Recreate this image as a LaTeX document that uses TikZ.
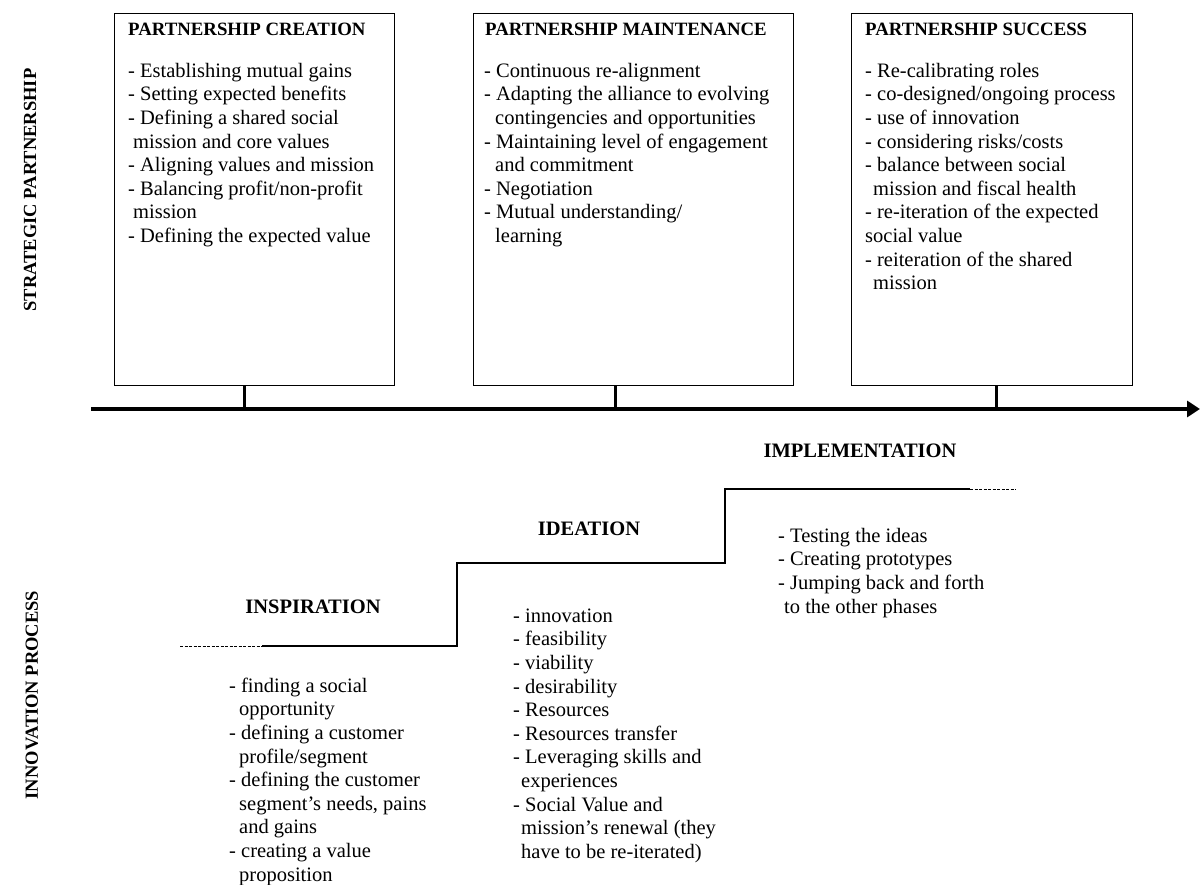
\documentclass[tikz,border=0pt]{standalone}
\usepackage{fontspec}
\setmainfont{Liberation Serif}
\usetikzlibrary{arrows.meta}
\begin{document}
\begin{tikzpicture}[x=1pt,y=-1pt,
  phasebox/.style={draw, line width=1.3pt, anchor=north west, inner sep=0, minimum height=372pt},
  boxtitle/.style={anchor=base west, inner sep=0, font=\fontsize{18.8}{22}\selectfont\bfseries},
  body/.style={anchor=north west, inner sep=0, align=left, font=\fontsize{20.5}{23.6}\selectfont},
  heading/.style={anchor=base, inner sep=0, font=\fontsize{20.5}{23.6}\selectfont\bfseries},
  sidelabel/.style={rotate=90, inner sep=0, font=\fontsize{18.5}{20}\selectfont\bfseries},
  tickline/.style={line width=3pt},
  stepline/.style={line width=1.4pt},
  dashline/.style={line width=1pt, dash pattern=on 3pt off 1.5pt}]
\useasboundingbox (0,0) rectangle (1200,885);

% side labels
\node[sidelabel] (lsp) at (30,190) {STRATEGIC PARTNERSHIP};
\node[sidelabel] (lip) at (32,695) {INNOVATION PROCESS};

% boxes
\node[phasebox, minimum width=280pt] (b1) at (114,13) {};
\node[phasebox, minimum width=320pt] (b2) at (473,13) {};
\node[phasebox, minimum width=281pt] (b3) at (851,13) {};

\node[boxtitle] (t1) at (128,36) {PARTNERSHIP CREATION};
\node[boxtitle] (t2) at (485,36) {PARTNERSHIP MAINTENANCE};
\node[boxtitle] (t3) at (865,36) {PARTNERSHIP SUCCESS};

\node[body] (l1) at (128,60.5) {\strut- Establishing mutual gains\\
- Setting expected benefits\\
- Defining a shared social\\
\hspace*{5pt}mission and core values\\
- Aligning values and mission\\
- Balancing profit/non-profit\\
\hspace*{5pt}mission\\
- Defining the expected value};

\node[body] (l2) at (484,60.5) {\strut- Continuous re-alignment\\
- Adapting the alliance to evolving\\
\hspace*{11pt}contingencies and opportunities\\
- Maintaining level of engagement\\
\hspace*{11pt}and commitment\\
- Negotiation\\
- Mutual understanding/\\
\hspace*{11pt}learning};

\node[body] (l3) at (865,60.5) {\strut- Re-calibrating roles\\
- co-designed/ongoing process\\
- use of innovation\\
- considering risks/costs\\
- balance between social\\
\hspace*{8pt}mission and fiscal health\\
- re-iteration of the expected\\
social value\\
- reiteration of the shared\\
\hspace*{8pt}mission};

% axis
\coordinate (axS) at (91,409);
\coordinate (axE) at (1200,409);
\draw[line width=4pt, -{Triangle[length=13pt,width=16pt]}] (axS) -- (axE);

% ticks
\coordinate (k1) at (244,409);
\coordinate (k2) at (615,409);
\coordinate (k3) at (996,409);
\draw[tickline] (b1.south -| k1) -- (k1);
\draw[tickline] (b2.south -| k2) -- (k2);
\draw[tickline] (b3.south -| k3) -- (k3);

% steps
\coordinate (s0) at (180,646);
\coordinate (s1) at (262,646);
\coordinate (s2) at (457,646);
\coordinate (s3) at (457,563);
\coordinate (s4) at (725,563);
\coordinate (s5) at (725,489);
\coordinate (s6) at (970,489);
\coordinate (s7) at (1016,489);
\draw[dashline] (s0) -- (s1);
\draw[stepline, line join=miter] (s1) -- (s2) -- (s3) -- (s4) -- (s5) -- (s6);
\draw[dashline] (s6) -- (s7);

% headings
\node[heading] (hinsp) at (313,613) {INSPIRATION};
\node[heading] (hidea) at (589,535) {IDEATION};
\node[heading] (himpl) at (860,457) {IMPLEMENTATION};

\node[body] (linsp) at (229,675.5) {\strut- finding a social\\
\hspace*{10pt}opportunity\\
- defining a customer\\
\hspace*{10pt}profile/segment\\
- defining the customer\\
\hspace*{10pt}segment's needs, pains\\
\hspace*{10pt}and gains\\
- creating a value\\
\hspace*{10pt}proposition};

\node[body] (lidea) at (513,605.5) {\strut- innovation\\
- feasibility\\
- viability\\
- desirability\\
- Resources\\
- Resources transfer\\
- Leveraging skills and\\
\hspace*{8pt}experiences\\
- Social Value and\\
\hspace*{8pt}mission's renewal (they\\
\hspace*{8pt}have to be re-iterated)};

\node[body] (limpl) at (778,525.5) {\strut- Testing the ideas\\
- Creating prototypes\\
- Jumping back and forth\\
\hspace*{6pt}to the other phases};
\end{tikzpicture}
\end{document}
